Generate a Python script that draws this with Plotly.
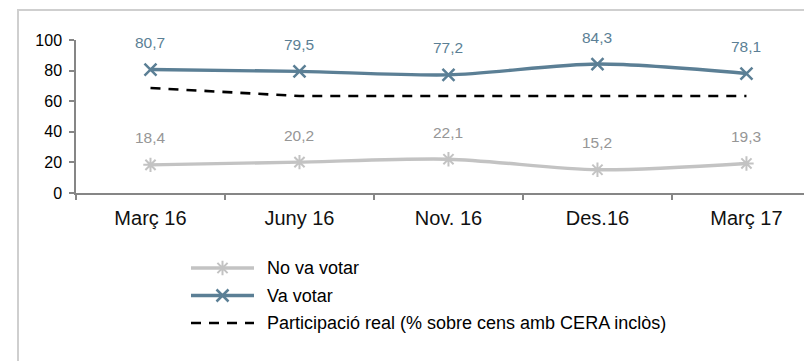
import plotly.graph_objects as go

categories = ["Març 16", "Juny 16", "Nov. 16", "Des.16", "Març 17"]
no_va_votar = [18.4, 20.2, 22.1, 15.2, 19.3]
va_votar = [80.7, 79.5, 77.2, 84.3, 78.1]
participacio_real = [68.6, 63.4, 63.4, 63.4, 63.4]
y_ticks = [0, 20, 40, 60, 80, 100]
legend_names = ["No va votar", "Va votar", "Participació real (% sobre cens amb CERA inclòs)"]

# page body has an 8px margin; figure fills the rest of the 812x361 window
OFF = 8
W, H = 812 - OFF, 361 - OFF


def px_x(s):
    return (s - OFF) / W


def px_y(s):
    return 1 - (s - OFF) / H


FONT = "Liberation Sans, Arial, sans-serif"
C_VA = "#5b7f95"
C_NO = "#c3c3c3"
C_NO_TXT = "#969696"
AX = "#868686"
DASH = "10px,8px"

fig = go.Figure()

fig.add_trace(go.Scatter(
    x=categories, y=no_va_votar, mode="lines+markers",
    line=dict(color=C_NO, width=3.4, shape="spline", smoothing=0.8),
    marker=dict(symbol="asterisk-open", size=12, color=C_NO, line=dict(color=C_NO, width=2)),
    showlegend=False, cliponaxis=False))
fig.add_trace(go.Scatter(
    x=categories, y=va_votar, mode="lines+markers",
    line=dict(color=C_VA, width=3.4, shape="spline", smoothing=0.8),
    marker=dict(symbol="x-thin-open", size=12, color=C_VA, line=dict(color=C_VA, width=2.5)),
    showlegend=False, cliponaxis=False))
fig.add_trace(go.Scatter(
    x=categories, y=participacio_real, mode="lines",
    line=dict(color="black", width=2.6, dash=DASH),
    showlegend=False, cliponaxis=False))

annotations = []
for c, v in zip(categories, no_va_votar):
    annotations.append(dict(x=c, y=v, xref="x", yref="y", text=f"{v:.1f}".replace(".", ","),
                            showarrow=False, yshift=27, font=dict(size=15.5, color=C_NO_TXT, family=FONT)))
for c, v in zip(categories, va_votar):
    annotations.append(dict(x=c, y=v, xref="x", yref="y", text=f"{v:.1f}".replace(".", ","),
                            showarrow=False, yshift=27, font=dict(size=15.5, color=C_VA, family=FONT)))

# custom legend drawn in a helper axis
leg_styles = [
    dict(line=dict(color=C_NO, width=3.4),
         marker=dict(symbol="asterisk-open", size=12, color=C_NO, line=dict(color=C_NO, width=2))),
    dict(line=dict(color=C_VA, width=3.4),
         marker=dict(symbol="x-thin-open", size=12, color=C_VA, line=dict(color=C_VA, width=2.5))),
    dict(line=dict(color="black", width=2.6, dash=DASH), marker=None),
]
for i, (name, st) in enumerate(zip(legend_names, leg_styles)):
    fig.add_trace(go.Scatter(x=[0, 1], y=[i, i], mode="lines", line=st["line"],
                             xaxis="x2", yaxis="y2", showlegend=False, hoverinfo="skip"))
    if st["marker"] is not None:
        fig.add_trace(go.Scatter(x=[0.5], y=[i], mode="markers", marker=st["marker"],
                                 xaxis="x2", yaxis="y2", showlegend=False, hoverinfo="skip"))
    annotations.append(dict(x=px_x(265), y=i, xref="paper", yref="y2", text=name, showarrow=False,
                            xanchor="left", yanchor="middle", font=dict(size=18, color="black", family=FONT)))

fig.update_layout(
    width=W, height=H,
    margin=dict(l=0, r=0, t=0, b=0, autoexpand=False),
    paper_bgcolor="white", plot_bgcolor="white",
    font=dict(family=FONT, color="black"),
    xaxis=dict(domain=[px_x(76), 1], type="category", range=[-0.5, 4.44],
               showline=True, linecolor=AX, linewidth=1.5, automargin=False,
               ticks="outside", tickson="boundaries", ticklen=5, tickcolor=AX, tickwidth=1.5,
               ticklabelstandoff=6,
               tickfont=dict(size=20, color="#111111"), showgrid=False, zeroline=False),
    yaxis=dict(domain=[px_y(193), px_y(40)], range=[0, 100], tickvals=y_ticks,
               showline=True, linecolor=AX, linewidth=1.5, automargin=False,
               ticks="outside", ticklen=5, tickcolor=AX, tickwidth=1.5,
               ticklabelstandoff=4,
               tickfont=dict(size=16, color="black"), showgrid=False, zeroline=False),
    xaxis2=dict(domain=[px_x(191), px_x(254)], range=[0, 1], visible=False, anchor="y2"),
    yaxis2=dict(domain=[px_y(336.75), px_y(254.25)], range=[2.5, -0.5], visible=False, anchor="x2"),
    annotations=annotations,
    shapes=[dict(type="rect", xref="paper", yref="paper", x0=px_x(18), x1=1.05, y0=-0.05, y1=px_y(10),
                 line=dict(color="#cfcfcf", width=2), fillcolor="rgba(0,0,0,0)", layer="below")],
    showlegend=False,
)

fig.write_html("out.html")
